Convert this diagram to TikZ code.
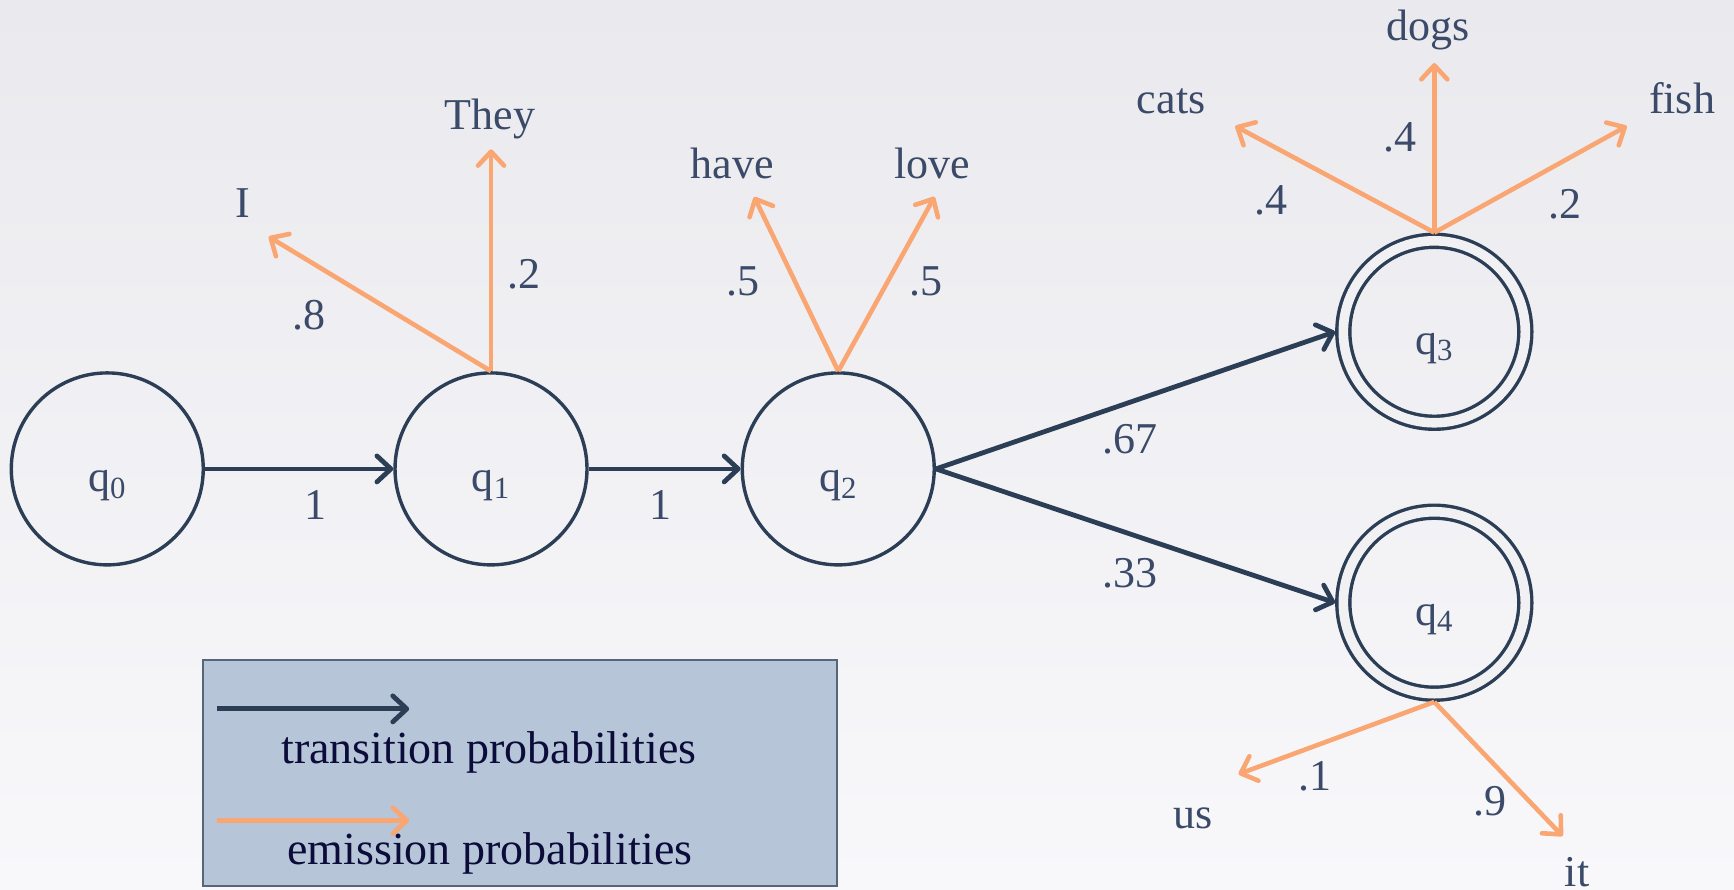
\documentclass[tikz,border=0pt]{standalone}
\usepackage{fontspec}
\setmainfont{Liberation Serif}
\usepackage{tikz}
\usetikzlibrary{arrows.meta,positioning}
\definecolor{nodeline}{HTML}{2C3E55}
\definecolor{emitcol}{HTML}{F9A673}
\definecolor{wordcol}{HTML}{3A4A68}
\definecolor{legfill}{HTML}{B6C5D8}
\definecolor{legtext}{HTML}{0C0C3A}
\definecolor{bgtop}{HTML}{EAEAEE}
\definecolor{bgbot}{HTML}{F8F8FB}
\tikzset{
  >={Straight Barb[length=7pt, width=13pt, round]},
  state/.style={circle, draw=nodeline, line width=1.7pt, minimum size=96pt, inner sep=0pt, text height=26pt, text depth=3pt, text=wordcol, font=\fontsize{22}{26}\selectfont},
  accept/.style={state, minimum size=91pt, double=bgtop!50!bgbot, double distance=4.8pt, outer sep=4.1pt},
  trans/.style={->, draw=nodeline, line width=2.4pt},
  emit/.style={->, draw=emitcol, line width=2.3pt},
  word/.style={anchor=base, text=wordcol, inner sep=0pt, font=\fontsize{22}{26}\selectfont},
  prob/.style={word},
  legbox/.style={draw=nodeline!80, line width=1pt, fill=legfill, minimum width=317pt, minimum height=113pt},
  legtxt/.style={anchor=base, text=legtext, inner sep=0pt, font=\fontsize{23}{27}\selectfont},
}

\begin{document}
\begin{tikzpicture}[x=0.553pt, y=-0.553pt]
  \fill[top color=bgtop, bottom color=bgbot] (0,0) rectangle (1568,804);
  \node[state] (q0) at (97,424) {q\textsubscript{0}};
  \node[state] (q1) at (444,424) {q\textsubscript{1}};
  \node[state] (q2) at (758,424) {q\textsubscript{2}};
  \node[accept] (q3) at (1297,300) {q\textsubscript{3}};
  \node[accept] (q4) at (1297,545) {q\textsubscript{4}};
  \draw[trans] (q0) -- (q1);
  \draw[trans] (q1) -- (q2);
  \draw[trans] (q2.east) -- (q3.west);
  \draw[trans] (q2.east) -- (q4.west);
  \node[prob] (p01) at (285,470) {1};
  \node[prob] (p12) at (597,470) {1};
  \node[prob] (p23) at (1022,410) {.67};
  \node[prob] (p24) at (1022,531) {.33};
  \coordinate (tI) at (243,214);
  \coordinate (tthey) at (444,135);
  \coordinate (thave) at (682,178);
  \coordinate (tlove) at (845,178);
  \coordinate (tcats) at (1117,114);
  \coordinate (tdogs) at (1297,57);
  \coordinate (tfish) at (1471,114);
  \coordinate (tus) at (1120,700);
  \coordinate (tit) at (1413,756);
  \draw[emit] (q1.north) -- (tI);
  \draw[emit] (q1.north) -- (tthey);
  \draw[emit] (q2.north) -- (thave);
  \draw[emit] (q2.north) -- (tlove);
  \draw[emit] (q3.north) -- (tcats);
  \draw[emit] (q3.north) -- (tdogs);
  \draw[emit] (q3.north) -- (tfish);
  \draw[emit] (q4.south) -- (tus);
  \draw[emit] (q4.south) -- (tit);
  \node[word] (wI) at (220,197) {I};
  \node[word] (wthey) at (443,117) {They};
  \node[word] (whave) at (662,161) {have};
  \node[word] (wlove) at (843,161) {love};
  \node[word] (wcats) at (1059,103) {cats};
  \node[word] (wdogs) at (1291,37) {dogs};
  \node[word] (wfish) at (1521,103) {fish};
  \node[word] (wus) at (1079,749) {us};
  \node[word] (wit) at (1426,802) {it};
  \node[prob] (eI) at (279,298) {.8};
  \node[prob] (ethey) at (474,261) {.2};
  \node[prob] (ehave) at (672,267) {.5};
  \node[prob] (elove) at (837,267) {.5};
  \node[prob] (ecats) at (1149,194) {.4};
  \node[prob] (edogs) at (1266,137) {.4};
  \node[prob] (efish) at (1415,198) {.2};
  \node[prob] (eus) at (1189,715) {.1};
  \node[prob] (eit) at (1347,737) {.9};
  \node[legbox] (leg) at (470.5,699) {};
  \coordinate (la1) at (196,641);
  \coordinate (lb1) at (370,641);
  \coordinate (la2) at (196,742);
  \coordinate (lb2) at (370,742);
  \draw[trans] (la1) -- (lb1);
  \draw[emit] (la2) -- (lb2);
  \node[legtxt] (ltrans) at (442,690) {transition probabilities};
  \node[legtxt] (lemit) at (443,782) {emission probabilities};
\end{tikzpicture}
\end{document}
